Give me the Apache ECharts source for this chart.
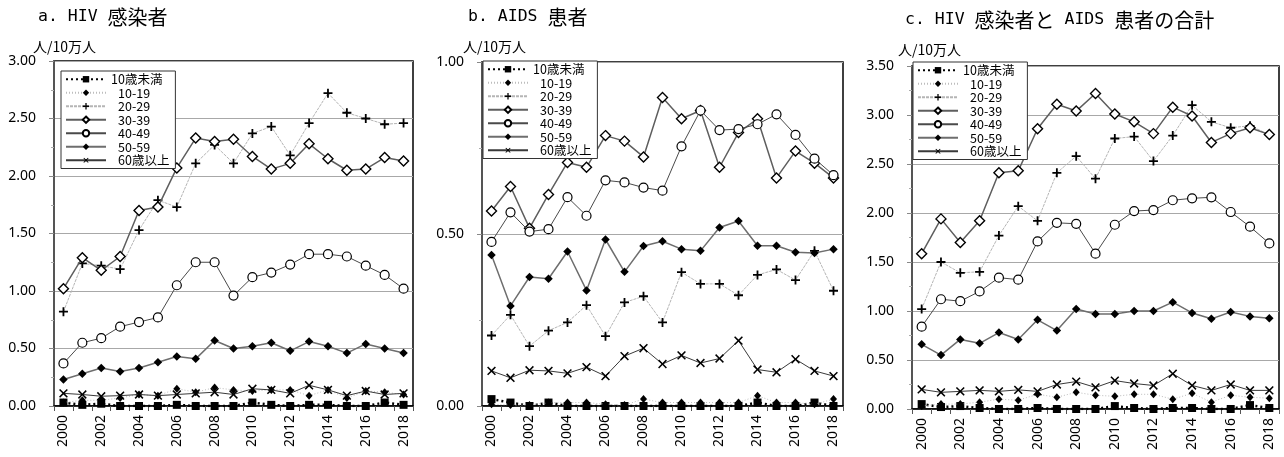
<!DOCTYPE html>
<html>
<head>
<meta charset="utf-8">
<script src="https://cdn.jsdelivr.net/npm/echarts@6/dist/echarts.min.js"></script>
<style>
  html, body { margin: 0; padding: 0; background: #fff; }
  #chart { width: 1284px; height: 457px; }
</style>
</head>
<body>
<div id="chart"></div>
<script>
// Years on the category axis
const years = ['2000','2001','2002','2003','2004','2005','2006','2007','2008','2009',
               '2010','2011','2012','2013','2014','2015','2016','2017','2018'];

// Age groups (legend order)
const ageGroups = ['10歳未満', '10-19', '20-29', '30-39', '40-49', '50-59', '60歳以上'];

// a. HIV infections per 100,000
const hivUnder10 = [0.03,0.01,0.02,0.00,0.00,0.00,0.01,0.00,0.00,0.00,0.03,0.01,0.00,0.01,0.01,0.00,0.00,0.03,0.01];
const hiv10s     = [0.03,0.05,0.05,0.07,0.10,0.09,0.15,0.12,0.16,0.14,0.13,0.14,0.14,0.09,0.14,0.07,0.13,0.12,0.10];
const hiv20s     = [0.82,1.24,1.22,1.19,1.53,1.79,1.73,2.11,2.27,2.11,2.37,2.43,2.18,2.46,2.72,2.55,2.50,2.45,2.46];
const hiv30s     = [1.02,1.29,1.18,1.30,1.70,1.73,2.07,2.33,2.30,2.32,2.17,2.06,2.11,2.28,2.15,2.05,2.06,2.16,2.13];
const hiv40s     = [0.37,0.55,0.59,0.69,0.73,0.77,1.05,1.25,1.25,0.96,1.12,1.16,1.23,1.32,1.32,1.30,1.22,1.14,1.02];
const hiv50s     = [0.23,0.28,0.33,0.30,0.33,0.38,0.43,0.41,0.57,0.50,0.52,0.55,0.48,0.56,0.52,0.46,0.54,0.50,0.46];
const hiv60plus  = [0.11,0.10,0.085,0.09,0.10,0.09,0.10,0.11,0.12,0.10,0.15,0.14,0.11,0.18,0.14,0.09,0.13,0.10,0.11];

// b. AIDS cases per 100,000
const aidsUnder10 = [0.02,0.01,0.00,0.01,0.00,0.00,0.00,0.00,0.00,0.00,0.00,0.00,0.00,0.00,0.01,0.00,0.00,0.01,0.00];
const aids10s     = [0.005,0.003,0.003,0.01,0.01,0.01,0.005,0.003,0.02,0.01,0.01,0.01,0.01,0.01,0.03,0.01,0.01,0.005,0.02];
const aids20s     = [0.205,0.265,0.174,0.219,0.243,0.293,0.203,0.301,0.319,0.243,0.389,0.355,0.355,0.322,0.381,0.397,0.366,0.451,0.335];
const aids30s     = [0.567,0.638,0.517,0.615,0.708,0.694,0.786,0.770,0.724,0.897,0.835,0.859,0.694,0.795,0.835,0.663,0.741,0.706,0.663];
const aids40s     = [0.477,0.563,0.507,0.514,0.607,0.553,0.656,0.650,0.635,0.626,0.755,0.859,0.802,0.805,0.819,0.848,0.788,0.719,0.671];
const aids50s     = [0.439,0.291,0.375,0.370,0.449,0.336,0.484,0.390,0.465,0.479,0.456,0.451,0.519,0.538,0.466,0.466,0.447,0.445,0.456];
const aids60plus  = [0.102,0.082,0.104,0.102,0.095,0.113,0.087,0.145,0.168,0.122,0.147,0.125,0.138,0.190,0.106,0.098,0.136,0.102,0.087];

// c. HIV + AIDS combined per 100,000
const totalUnder10 = [0.05,0.02,0.03,0.01,0.00,0.00,0.01,0.00,0.00,0.00,0.03,0.01,0.00,0.01,0.01,0.00,0.00,0.04,0.01];
const total10s     = [0.03,0.05,0.05,0.07,0.10,0.09,0.15,0.12,0.17,0.14,0.13,0.15,0.15,0.10,0.16,0.07,0.14,0.12,0.11];
const total20s     = [1.02,1.50,1.39,1.40,1.77,2.07,1.92,2.41,2.58,2.35,2.76,2.78,2.53,2.79,3.10,2.93,2.87,2.89,2.80];
const total30s     = [1.585,1.94,1.70,1.92,2.41,2.43,2.86,3.11,3.04,3.22,3.01,2.93,2.81,3.08,2.99,2.72,2.81,2.87,2.80];
const total40s     = [0.84,1.12,1.10,1.20,1.34,1.32,1.71,1.90,1.89,1.585,1.88,2.02,2.03,2.13,2.15,2.16,2.01,1.86,1.69];
const total50s     = [0.66,0.55,0.71,0.67,0.78,0.71,0.91,0.80,1.02,0.97,0.97,1.00,1.00,1.09,0.98,0.92,0.99,0.945,0.925];
const total60plus  = [0.20,0.17,0.18,0.19,0.18,0.195,0.18,0.25,0.28,0.22,0.29,0.26,0.24,0.36,0.24,0.19,0.25,0.19,0.19];

// Axis ranges per panel
const yMax = [3.0, 1.0, 3.5];

const panels = [
  [hivUnder10, hiv10s, hiv20s, hiv30s, hiv40s, hiv50s, hiv60plus],
  [aidsUnder10, aids10s, aids20s, aids30s, aids40s, aids50s, aids60plus],
  [totalUnder10, total10s, total20s, total30s, total40s, total50s, total60plus]
];

// Marker shapes
const PLUS  = 'path://M4,0H6V4H10V6H6V10H4V6H0V4H4Z';
const CROSS = 'path://M4.3,0H5.7V4.3H10V5.7H5.7V10H4.3V5.7H0V4.3H4.3Z';

// Line / marker style for each age group
const styles = {
  '10歳未満': { symbol: 'rect', size: 8, fill: '#000', border: '#000', bw: 0,
                line: { color: '#000', width: 2.5, type: [2, 3] } },
  '10-19':    { symbol: 'diamond', size: [7, 8], fill: '#000', border: '#000', bw: 0,
                line: { color: '#bdbdbd', width: 1, type: [1, 2] } },
  '20-29':    { symbol: PLUS, size: 9, fill: '#000', border: '#000', bw: 0,
                line: { color: '#b5b5b5', width: 1, type: [3, 1] } },
  '30-39':    { symbol: 'diamond', size: 10, fill: '#fff', border: '#000', bw: 1.4,
                line: { color: '#5e5e5e', width: 1.5, type: 'solid' } },
  '40-49':    { symbol: 'circle', size: 9, fill: '#fff', border: '#000', bw: 1.2,
                line: { color: '#4a4a4a', width: 1, type: 'solid' } },
  '50-59':    { symbol: 'diamond', size: 8.5, fill: '#000', border: '#000', bw: 0,
                line: { color: '#6e6e6e', width: 1.5, type: 'solid' } },
  '60歳以上': { symbol: CROSS, size: 11, fill: '#000', border: '#000', bw: 0, rotate: 45,
                line: { color: '#3a3a3a', width: 1, type: 'solid' } }
};

// Plot-area placement of the three panels
const grids = [
  { left: 54,  right: 871, top: 61, bottom: 51 },
  { left: 482, right: 441, top: 62, bottom: 51 },
  { left: 912, right: 5,   top: 66, bottom: 48 }
];

const legendPos = [
  { left: 61,  top: 71 },
  { left: 483, top: 61 },
  { left: 913, top: 62 }
];

const baseFont = '"Noto Sans", "Noto Sans CJK JP", sans-serif';
const cjkFont = '"Noto Sans CJK JP", "Noto Sans", sans-serif';

const series = [];
panels.forEach((sets, p) => {
  sets.forEach((values, i) => {
    const name = ageGroups[i];
    const s = styles[name];
    series.push({
      name: name,
      type: 'line',
      xAxisIndex: p,
      yAxisIndex: p,
      data: values,
      symbol: s.symbol,
      symbolSize: s.size,
      symbolRotate: s.rotate || 0,
      showAllSymbol: true,
      lineStyle: s.line,
      itemStyle: { color: s.fill, borderColor: s.border, borderWidth: s.bw },
      emphasis: { disabled: true },
      z: 2 + i
    });
  });
});

const xAxes = grids.map((g, p) => ({
  type: 'category',
  gridIndex: p,
  data: years,
  boundaryGap: true,
  axisLine: { lineStyle: { color: '#000', width: 1.5 } },
  axisTick: { show: true, interval: 0, length: 5, lineStyle: { color: '#555' } },
  axisLabel: {
    interval: 1, rotate: 90, margin: 9,
    fontFamily: baseFont, fontSize: 14, color: '#000'
  },
  splitLine: { show: false }
}));

const yAxes = grids.map((g, p) => ({
  type: 'value',
  gridIndex: p,
  min: 0,
  max: yMax[p],
  interval: 0.5,
  axisLine: { show: true, lineStyle: { color: '#555', width: 2 } },
  axisTick: { show: true, length: 5, lineStyle: { color: '#888' } },
  minorTick: { show: true, splitNumber: 2, length: 3, lineStyle: { color: '#aaa' } },
  axisLabel: {
    margin: 18, fontFamily: baseFont, fontSize: 14, color: '#000',
    formatter: v => v.toFixed(2)
  },
  splitLine: { show: true, lineStyle: { color: '#a8a8a8', width: 1 } }
}));

const legends = legendPos.map(pos => ({
  left: pos.left,
  top: pos.top,
  orient: 'vertical',
  data: ageGroups,
  itemWidth: 40,
  itemHeight: 8,
  itemGap: 1,
  padding: [2, 6, 2, 4],
  backgroundColor: '#fff',
  borderColor: '#333',
  borderWidth: 1,
  selectedMode: false,
  textStyle: {
    fontFamily: cjkFont, fontSize: 12.5, color: '#000', lineHeight: 12,
    rich: { p: { fontFamily: cjkFont, fontSize: 12.5, lineHeight: 12, padding: [0, 0, 0, 7] } }
  },
  formatter: n => (n === ageGroups[0] ? n : '{p|' + n + '}'),
  z: 10
}));

// Panel titles (monospaced latin, wide CJK) and unit captions
const monoFont = '"DejaVu Sans Mono", monospace';
function titleText(x, y, parts) {
  return {
    type: 'text', x: x, y: y, z: 20,
    style: {
      text: parts.map(([k, t]) => '{' + k + '|' + t + '}').join(''),
      verticalAlign: 'middle',
      rich: {
        l: { fontFamily: monoFont, fontSize: 16.5, fill: '#000' },
        k: { fontFamily: cjkFont, fontSize: 20, fill: '#000' }
      }
    }
  };
}
function unitText(x, y) {
  return {
    type: 'text', x: x, y: y, z: 20,
    style: { text: '人/10万人', fontFamily: cjkFont, fontSize: 14, fill: '#000', verticalAlign: 'middle' }
  };
}

const graphics = [
  titleText(38, 17, [['l', 'a. HIV '], ['k', '感染者']]),
  titleText(468, 17, [['l', 'b. AIDS '], ['k', '患者']]),
  titleText(905, 20, [['l', 'c. HIV '], ['k', '感染者と'], ['l', ' AIDS '], ['k', '患者の合計']]),
  unitText(33, 47),
  unitText(463, 47),
  unitText(898, 50)
];

const chart = echarts.init(document.getElementById('chart'), null, { renderer: 'canvas' });
chart.setOption({
  animation: false,
  backgroundColor: '#fff',
  grid: grids.map(g => Object.assign({ show: true, borderColor: '#000', borderWidth: 1.5, backgroundColor: 'transparent' }, g)),
  xAxis: xAxes,
  yAxis: yAxes,
  legend: legends,
  series: series,
  graphic: graphics
});
</script>
</body>
</html>
